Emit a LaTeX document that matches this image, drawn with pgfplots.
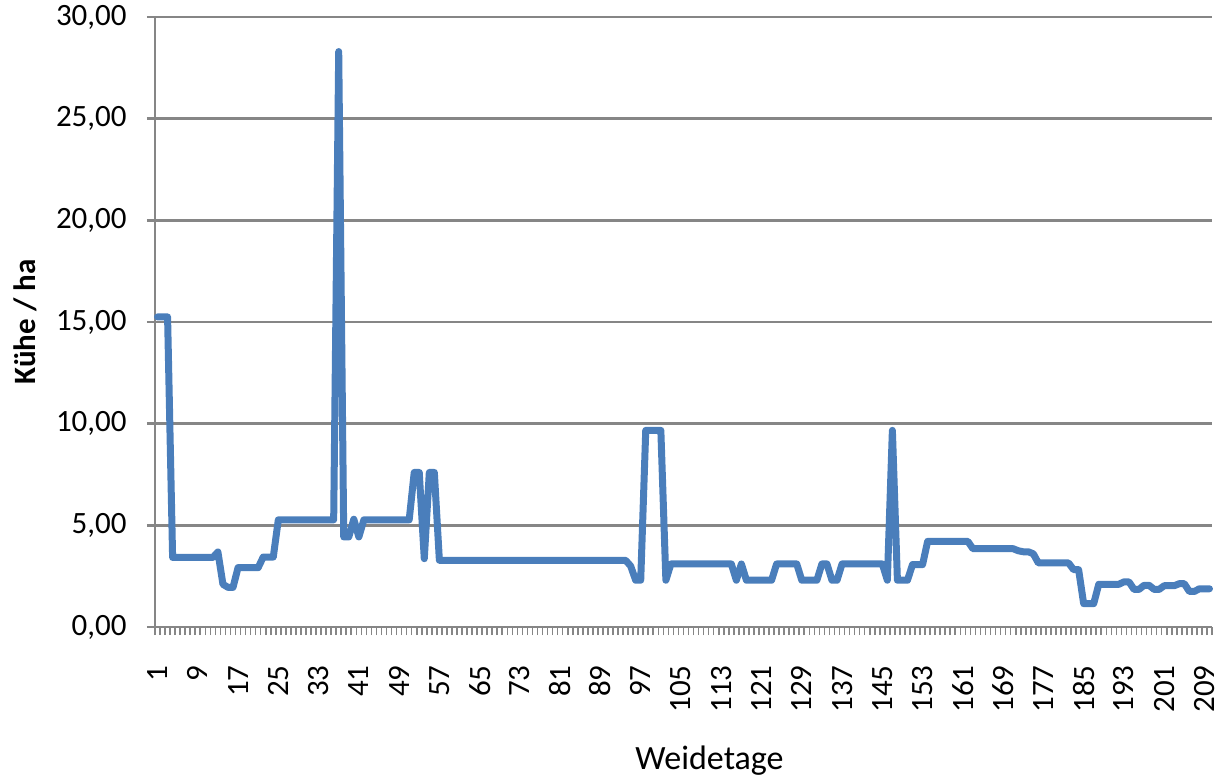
\documentclass[border=0pt]{standalone}
\usepackage{pgfplots}
\pgfplotsset{compat=1.18}
\usepackage{fontspec}
\setmainfont{Carlito}
\definecolor{lineblue}{RGB}{74,126,187}
\definecolor{gridgray}{RGB}{134,134,134}
\begin{document}
\begin{tikzpicture}
\begin{axis}[
  scale only axis,
  width=528.5pt, height=305pt,
  at={(0,0)}, anchor=south west,
  xmin=0.5, xmax=210.5,
  ymin=0, ymax=30,
  axis lines*=left,
  axis line style={gridgray, line width=1.2pt},
  xtick={1,9,...,209},
  minor xtick={0.5,1.5,...,210.5},
  ytick={0,5,...,30},
  tick align=outside,
  major tick length=4pt,
  minor tick length=4pt,
  x tick style={draw=none},
  minor x tick style={draw=gridgray, line width=0.8pt},
  y tick style={draw=gridgray, line width=1.2pt},
  ymajorgrids,
  major grid style={gridgray, line width=1.2pt},
  /pgf/number format/assume math mode=true,
  yticklabel style={/pgf/number format/fixed, /pgf/number format/fixed zerofill, /pgf/number format/precision=2, /pgf/number format/use comma},
  yticklabel style={font=\fontsize{15.5}{18}\selectfont, anchor=east, inner sep=0pt, xshift=-10pt},
  xticklabel style={font=\fontsize{15.5}{18}\selectfont, rotate=90, anchor=east, inner sep=0pt},
  xticklabel shift=15pt,
  xlabel={Weidetage},
  ylabel={\bfseries Kühe / ha},
  every axis x label/.style={at={(axis description cs:0.5246,-0.2344)}, anchor=base, font=\fontsize{17}{20}\selectfont},
  every axis y label/.style={at={(axis description cs:-0.123,0.5)}, rotate=90, anchor=center, font=\fontsize{15.5}{18}\selectfont},
  clip=false,
]
\addplot[lineblue, line width=3.5pt, line join=round, line cap=round, mark=none] coordinates {
(1,15.25)(2,15.25)(3,15.25)
(4,3.42)(5,3.42)(6,3.42)(7,3.42)(8,3.42)(9,3.42)(10,3.42)(11,3.42)(12,3.42)
(13,3.69)(14,2.10)(15,1.95)(16,1.95)
(17,2.92)(18,2.92)(19,2.92)(20,2.92)(21,2.92)
(22,3.44)(23,3.44)(24,3.44)
(25,5.27)(26,5.27)(27,5.27)(28,5.27)(29,5.27)(30,5.27)(31,5.27)(32,5.27)(33,5.27)(34,5.27)(35,5.27)(36,5.27)
(37,28.3)(38,4.43)(39,4.43)(40,5.30)(41,4.43)
(42,5.27)(43,5.27)(44,5.27)(45,5.27)(46,5.27)(47,5.27)(48,5.27)(49,5.27)(50,5.27)(51,5.27)
(52,7.6)(53,7.6)(54,3.36)(55,7.6)(56,7.6)
(57,3.28)(58,3.28)(59,3.28)(60,3.28)(61,3.28)(62,3.28)(63,3.28)(64,3.28)(65,3.28)(66,3.28)
(67,3.28)(68,3.28)(69,3.28)(70,3.28)(71,3.28)(72,3.28)(73,3.28)(74,3.28)(75,3.28)(76,3.28)
(77,3.28)(78,3.28)(79,3.28)(80,3.28)(81,3.28)(82,3.28)(83,3.28)(84,3.28)(85,3.28)(86,3.28)
(87,3.28)(88,3.28)(89,3.28)(90,3.28)(91,3.28)(92,3.28)(93,3.28)(94,3.28)
(95,3.0)(96,2.3)(97,2.3)
(98,9.67)(99,9.67)(100,9.67)(101,9.67)
(102,2.3)
(103,3.1)(104,3.1)(105,3.1)(106,3.1)(107,3.1)(108,3.1)(109,3.1)(110,3.1)(111,3.1)(112,3.1)(113,3.1)(114,3.1)(115,3.1)
(116,2.3)(117,3.1)
(118,2.3)(119,2.3)(120,2.3)(121,2.3)(122,2.3)(123,2.3)
(124,3.1)(125,3.1)(126,3.1)(127,3.1)(128,3.1)
(129,2.3)(130,2.3)(131,2.3)(132,2.3)
(133,3.1)(134,3.1)
(135,2.3)(136,2.3)
(137,3.1)(138,3.1)(139,3.1)(140,3.1)(141,3.1)(142,3.1)(143,3.1)(144,3.1)(145,3.1)
(146,2.3)(147,9.67)(148,2.3)(149,2.3)(150,2.3)
(151,3.07)(152,3.07)(153,3.07)
(154,4.21)(155,4.21)(156,4.21)(157,4.21)(158,4.21)(159,4.21)(160,4.21)(161,4.21)(162,4.21)
(163,3.85)(164,3.85)(165,3.85)(166,3.85)(167,3.85)(168,3.85)(169,3.85)(170,3.85)(171,3.85)
(172,3.75)(173,3.7)(174,3.7)(175,3.6)
(176,3.15)(177,3.15)(178,3.15)(179,3.15)(180,3.15)(181,3.15)(182,3.15)
(183,2.82)(184,2.82)
(185,1.15)(186,1.15)(187,1.15)
(188,2.1)(189,2.1)(190,2.1)(191,2.1)(192,2.1)
(193,2.22)(194,2.22)(195,1.85)(196,1.85)(197,2.05)(198,2.05)(199,1.85)(200,1.85)
(201,2.03)(202,2.03)(203,2.03)(204,2.13)(205,2.13)(206,1.75)(207,1.75)
(208,1.88)(209,1.88)(210,1.88)
};
\end{axis}
\pgfresetboundingbox
\path[use as bounding box] (-77.5pt,-75.5pt) rectangle (536.5pt,313.5pt);
\end{tikzpicture}
\end{document}
